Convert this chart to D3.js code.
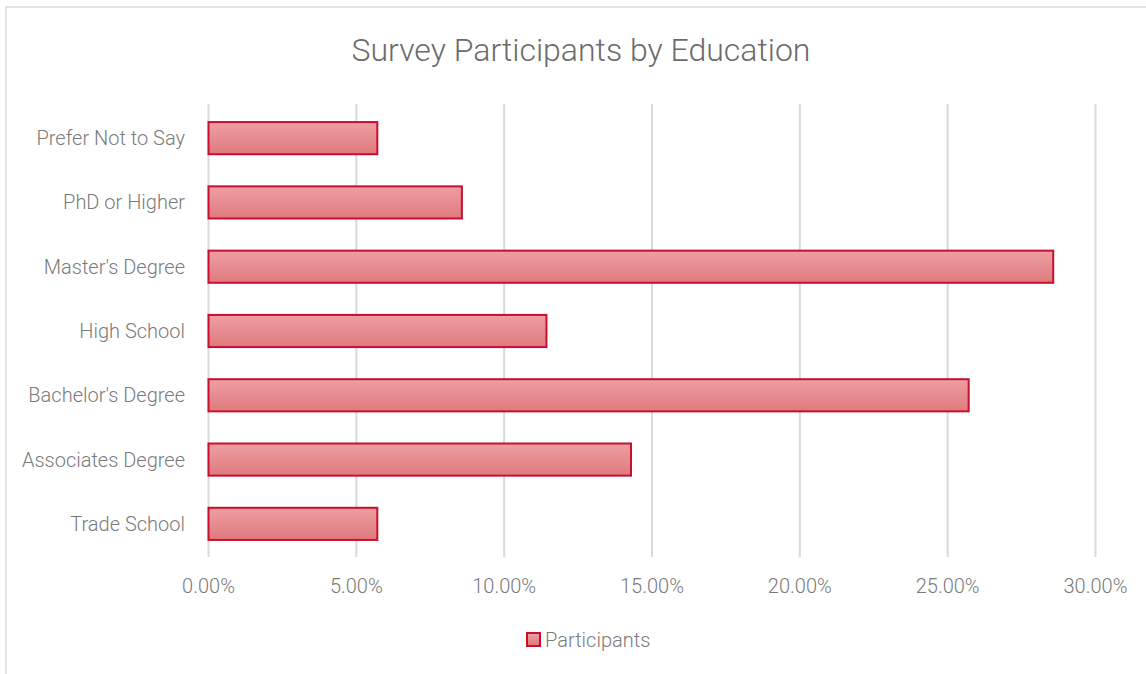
<!DOCTYPE html>
<html>
<head>
<meta charset="utf-8">
<script src="https://cdn.jsdelivr.net/npm/d3@7"></script>
<style>
  body { margin: 0; background: #fff; }
  text { font-family: "Roboto", "Liberation Sans", sans-serif; font-weight: 300; fill: #7a7a7a; }
</style>
</head>
<body>
<script>

var categories = ["Prefer Not to Say", "PhD or Higher", "Master's Degree", "High School",
                  "Bachelor's Degree", "Associates Degree", "Trade School"];
var participants = [5.71, 8.57, 28.57, 11.43, 25.71, 14.29, 5.71];
var ticks = [0, 5, 10, 15, 20, 25, 30];

var width = 1146, height = 674;

var svg = d3.select("body").append("svg")
	.attr("width", width)
	.attr("height", height);

// outer chart border
svg.append("rect")
	.attr("x", 6).attr("y", 7)
	.attr("width", width + 10).attr("height", height + 10)
	.attr("fill", "#fff")
	.attr("stroke", "#d9d9d9")
	.attr("stroke-width", 1.5);

var defs = svg.append("defs");
var grad = defs.append("linearGradient")
	.attr("id", "barGrad")
	.attr("x1", 0).attr("y1", 0).attr("x2", 0).attr("y2", 1);
grad.append("stop").attr("offset", "0%").attr("stop-color", "#ee9fa3");
grad.append("stop").attr("offset", "100%").attr("stop-color", "#df7a7e");

var x = d3.scaleLinear().domain([0, 30]).range([208.5, 1095.5]);
var y = d3.scaleBand().domain(categories).range([106, 556]).paddingInner(0.5).paddingOuter(0.25);

// gridlines
svg.append("g").selectAll("line").data(ticks)
	.enter().append("line")
	.attr("x1", function(d){ return x(d); })
	.attr("x2", function(d){ return x(d); })
	.attr("y1", 104)
	.attr("y2", 557)
	.attr("stroke", "#d9d9d9")
	.attr("stroke-width", 2);

// bars
svg.append("g").selectAll("rect").data(participants)
	.enter().append("rect")
	.attr("x", x(0))
	.attr("y", function(d, i){ return y(categories[i]); })
	.attr("width", function(d){ return x(d) - x(0); })
	.attr("height", y.bandwidth())
	.attr("fill", "url(#barGrad)")
	.attr("stroke", "#c8102e")
	.attr("stroke-width", 2);

// category labels
svg.append("g").selectAll("text").data(categories)
	.enter().append("text")
	.attr("x", 185)
	.attr("y", function(d){ return y(d) + y.bandwidth() / 2; })
	.attr("dy", "0.35em")
	.attr("text-anchor", "end")
	.style("font-size", "20px")
	.text(function(d){ return d; });

// x tick labels
svg.append("g").selectAll("text").data(ticks)
	.enter().append("text")
	.attr("x", function(d){ return x(d); })
	.attr("y", 586)
	.attr("dy", "0.35em")
	.attr("text-anchor", "middle")
	.style("font-size", "20px")
	.text(function(d){ return d3.format(".2f")(d) + "%"; });

// title
svg.append("text")
	.attr("x", 581)
	.attr("y", 50)
	.attr("dy", "0.35em")
	.attr("text-anchor", "middle")
	.style("font-size", "32px")
	.style("fill", "#6b6b6b")
	.text("Survey Participants by Education");

// legend
svg.append("rect")
	.attr("x", 527).attr("y", 633)
	.attr("width", 13).attr("height", 13)
	.attr("fill", "url(#barGrad)")
	.attr("stroke", "#c8102e")
	.attr("stroke-width", 2);
svg.append("text")
	.attr("x", 545)
	.attr("y", 640)
	.attr("dy", "0.35em")
	.style("font-size", "20px")
	.text("Participants");

</script>
</body>
</html>
